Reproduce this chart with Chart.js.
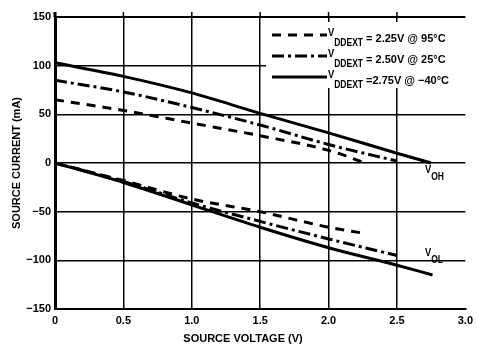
<!DOCTYPE html>
<html>
<head>
<meta charset="utf-8">
<script src="https://cdn.jsdelivr.net/npm/chart.js@4.4.1/dist/chart.umd.min.js"></script>
<style>
html, body { margin: 0; padding: 0; background: #fff; }
#wrap { width: 478px; height: 346px; position: relative; }
</style>
</head>
<body>
<div id="wrap"><canvas id="myChart"></canvas></div>
<script>
const FONT = '"Liberation Sans", Arial, sans-serif';

// x axis ticks
const xTicks = [0, 0.5, 1.0, 1.5, 2.0, 2.5, 3.0];

// VOH curves (positive current)
const ohVolt225 = [0, 0.5, 1.0, 1.5, 2.0, 2.25];
const ohCurr225 = [65, 54, 41, 28, 13, 1];
const ohVolt250 = [0, 0.5, 1.0, 1.5, 2.0, 2.5];
const ohCurr250 = [85, 73, 57, 39, 19, 2];
const ohVolt275 = [0, 0.5, 1.0, 1.5, 2.0, 2.5, 2.75];
const ohCurr275 = [103, 89, 72, 51, 31, 10, 0];

// VOL curves (negative current)
const olVolt225 = [0, 0.5, 1.0, 1.5, 2.0, 2.25];
const olCurr225 = [0, -18, -37, -50, -66, -72];
const olVolt250 = [0, 0.5, 1.0, 1.5, 2.0, 2.5];
const olCurr250 = [0, -19, -41, -60, -78, -95];
const olVolt275 = [0, 0.5, 1.0, 1.5, 2.0, 2.5, 2.76];
const olCurr275 = [0, -20, -43, -66, -87, -105, -115];

// legend text
const legendRest = ['= 2.25V @ 95°C', '= 2.50V @ 25°C', '=2.75V @ \u221240°C'];
const legendDash = [[9, 7], [12, 4, 3, 4], []];

function pts(v, c) {
    return v.map((x, k) => ({ x: x, y: c[k] }));
}

function ds(v, c, dash) {
    return {
        data: pts(v, c),
        borderColor: '#000',
        borderWidth: 3,
        borderDash: dash,
        pointRadius: 0,
        cubicInterpolationMode: 'monotone',
        fill: false
    };
}

// V with subscript, squeezed a bit like the original
function subText(ctx, x, y, main, sub, subDy) {
    ctx.save();
    ctx.translate(x, 0);
    ctx.scale(0.85, 1);
    ctx.font = 'bold 11px ' + FONT;
    ctx.fillText(main, 0, y);
    var w = ctx.measureText(main).width;
    ctx.font = 'bold 10px ' + FONT;
    ctx.fillText(sub, w, y + subDy);
    var end = x + (w + ctx.measureText(sub).width) * 0.85;
    ctx.restore();
    return end;
}

const extras = {
    id: 'extras',
    afterDraw(chart) {
        const ctx = chart.ctx;
        const xs = chart.scales.x;
        const ca = chart.chartArea;
        ctx.save();
        ctx.strokeStyle = '#000';
        ctx.fillStyle = '#000';

        // little ticks above the top line
        ctx.lineWidth = 1.5;
        xTicks.slice(1, 6).forEach(v => {
            const px = xs.getPixelForValue(v);
            ctx.beginPath();
            ctx.moveTo(px, ca.top - 5);
            ctx.lineTo(px, ca.top);
            ctx.stroke();
        });
        ctx.lineWidth = 3;
        ctx.beginPath();
        ctx.moveTo(ca.left, ca.top - 5);
        ctx.lineTo(ca.left, ca.top);
        ctx.stroke();

        // legend box
        ctx.fillStyle = '#fff';
        ctx.fillRect(266, 22, 212, 66);
        ctx.fillStyle = '#000';
        ctx.textBaseline = 'alphabetic';
        ctx.textAlign = 'left';
        for (var i = 0; i < 3; i++) {
            var ly = 35 + i * 21;
            ctx.lineWidth = 3;
            ctx.setLineDash(legendDash[i]);
            ctx.beginPath();
            ctx.moveTo(272, ly);
            ctx.lineTo(327, ly);
            ctx.stroke();
            ctx.setLineDash([]);
            var end = subText(ctx, 328, ly + 1, 'V', 'DDEXT', 10);
            ctx.font = 'bold 11px ' + FONT;
            ctx.fillText(legendRest[i], end + 3, ly + 7);
        }

        // curve labels
        subText(ctx, 425, 173, 'V', 'OH', 7);
        subText(ctx, 425, 256, 'V', 'OL', 7);

        // x axis title
        ctx.font = 'bold 11px ' + FONT;
        ctx.textAlign = 'center';
        ctx.fillText('SOURCE VOLTAGE (V)', 243, 342);
        ctx.restore();
    }
};

const ctx = document.getElementById('myChart');
var chart = new Chart(ctx, {
    type: 'line',
    data: {
        datasets: [
            ds(ohVolt225, ohCurr225, [9, 7]),
            ds(ohVolt250, ohCurr250, [12, 4, 3, 4]),
            ds(ohVolt275, ohCurr275, []),
            ds(olVolt225, olCurr225, [9, 7]),
            ds(olVolt250, olCurr250, [12, 4, 3, 4]),
            ds(olVolt275, olCurr275, [])
        ]
    },
    options: {
        responsive: true,
        maintainAspectRatio: false,
        animation: false,
        layout: { padding: { left: 0, right: 5, top: 17, bottom: 0 } },
        plugins: {
            legend: { display: false },
            tooltip: { enabled: false }
        },
        scales: {
            x: {
                type: 'linear',
                min: 0,
                max: 3,
                afterBuildTicks: s => { s.ticks = xTicks.map(v => ({ value: v })); },
                afterFit: s => { s.height = 37; },
                ticks: {
                    color: '#000',
                    padding: 5,
                    maxRotation: 0,
                    font: { family: FONT, size: 11, weight: 'bold' },
                    callback: v => v === 0 ? '0' : v.toFixed(1)
                },
                grid: {
                    drawTicks: false,
                    color: c => (c.tick && c.tick.value === 3) ? 'rgba(0,0,0,0)' : '#000',
                    lineWidth: 1.5
                },
                border: { color: '#000', width: 2 }
            },
            y: {
                min: -150,
                max: 150,
                afterFit: s => { s.width = 55; },
                ticks: {
                    stepSize: 50,
                    color: '#000',
                    padding: 4,
                    font: { family: FONT, size: 11, weight: 'bold' },
                    callback: v => v < 0 ? '\u2212' + Math.abs(v) : String(v)
                },
                grid: {
                    drawTicks: false,
                    color: '#000',
                    lineWidth: c => (c.tick && c.tick.value === 150) ? 2 : 1.5
                },
                border: { color: '#000', width: 3 },
                title: {
                    display: true,
                    text: 'SOURCE CURRENT (mA)',
                    color: '#000',
                    font: { family: FONT, size: 11, weight: 'bold' },
                    padding: { top: 10, bottom: 0 }
                }
            }
        }
    },
    plugins: [extras]
});
</script>
</body>
</html>
